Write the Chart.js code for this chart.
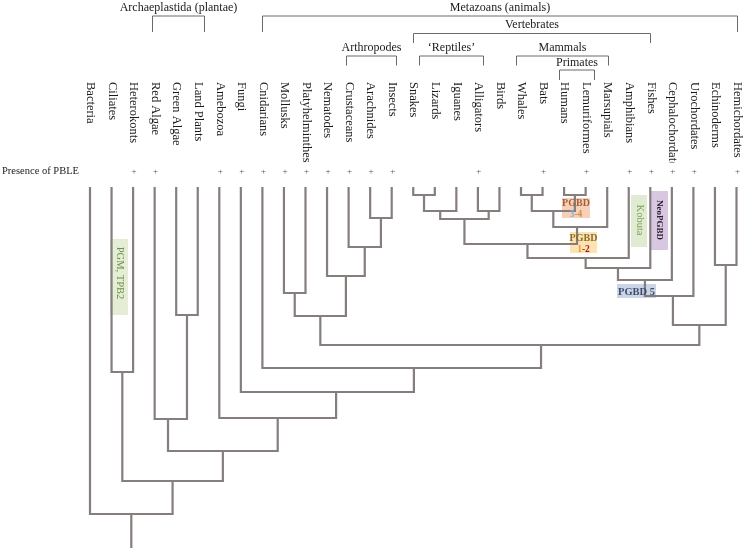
<!DOCTYPE html>
<html><head><meta charset="utf-8">
<script src="https://cdn.jsdelivr.net/npm/chart.js@4.4.1/dist/chart.umd.min.js"></script>
<style>html,body{margin:0;padding:0;background:#fff}#wrap{width:745px;height:548px;position:relative}</style>
</head><body><div id="wrap"><canvas id="c" width="745" height="548"></canvas></div>
<script>
// ---------------- DATA ----------------
const taxa = ['Bacteria','Ciliates','Heterokonts','Red Algae','Green Algae','Land Plants','Amebozoa','Fungi',
  'Cnidarians','Mollusks','Platyhelminthes','Nematodes','Crustaceans','Arachnides','Insects','Snakes','Lizards',
  'Iguanes','Alligators','Birds','Whales','Bats','Humans','Lemuriformes','Marsupials','Amphibians','Fishes',
  'Cephalochordates','Urochordates','Echinoderms','Hemichordates'];
// presence (1) / absence (0) of PBLE
const pble = [0,0,1,1,0,0,1,1,1,1,1,1,1,1,1,0,0,0,1,0,0,1,0,1,0,1,1,1,1,0,1];

// internal nodes of the tree: two children and a depth (distance below the tips)
const nodeNames = ['SnakesLizards','Squamates','Archosaurs','Sauropsids','WhalesBats','PrimatesNode','Placentals',
  'Mammalia','Amniotes','Tetrapods','Vertebrata','ChordCore','Chordates','Ambulacraria','Deuterostomes',
  'ArachInsects','Arthropoda','Ecdysozoa','Lophotrochozoa','Protostomes','Bilateria','Metazoa','Opisthokonts',
  'Unikonts','GreenPlants','Plantae','SAR','PlantsUnikonts','Eukaryotes','Life'];
const nodeLeft  = ['Snakes','SnakesLizards','Alligators','Squamates','Whales','Humans','WhalesBats','Placentals',
  'Sauropsids','Amniotes','Tetrapods','Vertebrata','ChordCore','Echinoderms','Chordates','Arachnides','Crustaceans',
  'Nematodes','Mollusks','Lophotrochozoa','Protostomes','Cnidarians','Fungi','Amebozoa','Green Algae','Red Algae',
  'Ciliates','Plantae','SAR','Bacteria'];
const nodeRight = ['Lizards','Iguanes','Birds','Archosaurs','Bats','Lemuriformes','PrimatesNode','Marsupials',
  'Mammalia','Amphibians','Fishes','Cephalochordates','Urochordates','Hemichordates','Ambulacraria','Insects',
  'ArachInsects','Arthropoda','Platyhelminthes','Ecdysozoa','Deuterostomes','Bilateria','Metazoa','Opisthokonts',
  'Land Plants','GreenPlants','Heterokonts','Unikonts','PlantsUnikonts','Eukaryotes'];
const nodeDepth = [7,23,23,31,7,7,23,39,56,70,80,92,108,77,137,30,59,88,105,128,157,180,204,230,127,231,184,263,293,326];
// stems drawn off-centre in the original (leaf-index units)
const stemAt = {Bilateria:20.93, Metazoa:15.03, Opisthokonts:11.42, Amniotes:20.3, Tetrapods:23.0, Plantae:3.62, Mammalia:22.6, Chordates:27.05};
const rootEnd = 362;

// clade brackets at the top
const groupNames = ['Archaeplastida (plantae)','Metazoans (animals)','Vertebrates','Arthropodes','\u2018Reptiles\u2019','Mammals','Primates'];
const groupFrom  = [2.88, 8.0, 15.0, 11.88, 15.27, 19.77, 21.76];
const groupTo    = [5.29, 30.0, 26.0, 14.2, 18.24, 24.04, 23.39];
const groupLevel = [0, 0, 1, 2, 2, 2, 3];

// ---------------- LAYOUT ----------------
const X0 = 90, DX = 21.55, TIP = 188;
const LINE = '#857e7d';
const SERIF = '"Liberation Serif","Times New Roman",serif';
const levels = [ {base:10.5, top:15.5, bot:32}, {base:27.5, top:33, bot:43}, {base:51, top:55.5, bot:65.5}, {base:66, top:69.5, bot:80} ];

const leafIndex = {}; taxa.forEach((t,i)=>leafIndex[t]=i);
const nodeIndex = {}; nodeNames.forEach((n,i)=>nodeIndex[n]=i);
const stemCache = {};
function stemX(name){
  if (name in leafIndex) return leafIndex[name];
  if (name in stemCache) return stemCache[name];
  const i = nodeIndex[name];
  const v = (name in stemAt) ? stemAt[name] : (stemX(nodeLeft[i]) + stemX(nodeRight[i]))/2;
  stemCache[name] = v; return v;
}
function topY(name){ return (name in leafIndex) ? 0 : nodeDepth[nodeIndex[name]]; }

const datasets = nodeNames.map((n,i)=>{
  const a = nodeLeft[i], b = nodeRight[i], d = nodeDepth[i];
  return {label:n, data:[{x:stemX(a),y:topY(a)},{x:stemX(a),y:d},{x:stemX(b),y:d},{x:stemX(b),y:topY(b)}]};
});
datasets.push({label:'root', data:[{x:stemX('Life'),y:nodeDepth[nodeIndex['Life']]},{x:stemX('Life'),y:rootEnd}]});
datasets.forEach(ds=>Object.assign(ds,{showLine:true,borderColor:LINE,borderWidth:2.2,pointRadius:0,
  borderJoinStyle:'miter',borderCapStyle:'square',fill:false,tension:0}));

const annBoxes = [
  {x:110,y:239,w:18,h:76,c:'rgba(222,232,205,0.8)'},
  {x:562,y:198,w:28,h:20,c:'rgba(246,196,168,0.8)'},
  {x:570,y:232,w:27,h:21,c:'rgba(253,222,165,0.85)'},
  {x:631,y:195,w:16,h:52,c:'rgba(222,232,205,0.9)'},
  {x:651,y:191,w:17,h:59,c:'rgba(214,196,222,0.95)'},
  {x:617,y:284,w:39,h:14,c:'rgba(196,208,230,0.9)'}
];

const decor = {
  id:'decor',
  beforeDatasetsDraw(chart){
    const ctx = chart.ctx; ctx.save();
    annBoxes.forEach(b=>{ctx.fillStyle=b.c; ctx.fillRect(b.x,b.y,b.w,b.h);});
    ctx.restore();
  },
  afterDatasetsDraw(chart){
    const ctx = chart.ctx, xs = chart.scales.x;
    const px = v => xs.getPixelForValue(v);
    ctx.save();
    // taxon labels (rotated, clipped)
    ctx.save();
    ctx.beginPath(); ctx.rect(0,0,745,162.5); ctx.clip();
    ctx.fillStyle = '#1a1a1a'; ctx.font = '12.5px '+SERIF; ctx.textAlign='left'; ctx.textBaseline='middle';
    taxa.forEach((t,i)=>{ ctx.save(); ctx.translate(px(i)+0.5, 82); ctx.rotate(Math.PI/2); ctx.fillText(t,0,0); ctx.restore(); });
    ctx.restore();
    // presence row
    ctx.fillStyle = '#1a1a1a'; ctx.font = '10.5px '+SERIF; ctx.textAlign='left'; ctx.textBaseline='alphabetic';
    ctx.fillText('Presence of PBLE', 2, 174);
    ctx.fillStyle = '#555'; ctx.font = '9px '+SERIF; ctx.textAlign='center'; ctx.textBaseline='middle';
    pble.forEach((p,i)=>{ if(p) ctx.fillText('+', px(i)+1, 172); });
    // brackets
    ctx.strokeStyle = '#6a6a6a'; ctx.lineWidth = 1;
    ctx.fillStyle = '#1a1a1a'; ctx.font = '12px '+SERIF; ctx.textAlign='center'; ctx.textBaseline='alphabetic';
    groupNames.forEach((g,i)=>{
      const L = levels[groupLevel[i]], a = Math.round(px(groupFrom[i]))+0.5, b = Math.round(px(groupTo[i]))+0.5;
      ctx.beginPath(); ctx.moveTo(a,L.bot); ctx.lineTo(a,L.top+0.5); ctx.lineTo(b,L.top+0.5); ctx.lineTo(b,L.bot); ctx.stroke();
      ctx.fillText(g,(a+b)/2,L.base);
    });
    // annotation texts
    function vtext(t,x,y,font,col){ctx.save();ctx.translate(x,y);ctx.rotate(Math.PI/2);ctx.font=font;ctx.fillStyle=col;ctx.textAlign='center';ctx.textBaseline='middle';ctx.fillText(t,0,0);ctx.restore();}
    vtext('PGM, TPB2',119.5,273,'10.5px '+SERIF,'#6f8f48');
    vtext('Kobuta',639.5,220,'10.5px '+SERIF,'#7ea456');
    vtext('NeoPGBD',659.5,220,'bold 9px '+SERIF,'#2a1a30');
    function multi(parts,cx,y,font){
      ctx.font=font; ctx.textBaseline='alphabetic'; ctx.textAlign='left';
      const w = parts.reduce((s,p)=>s+ctx.measureText(p[0]).width,0); let x = cx-w/2;
      parts.forEach(p=>{ctx.fillStyle=p[1]; ctx.fillText(p[0],x,y); x+=ctx.measureText(p[0]).width;});
    }
    multi([['PGBD','#a0623c']],576,206,'bold 10px '+SERIF);
    multi([['3','#7fb4d6'],['-4','#c8944a']],576,216.5,'bold 9.5px '+SERIF);
    multi([['PGBD','#8c6c2c']],583.5,241,'bold 10px '+SERIF);
    multi([['1','#e3a02e'],['-','#a04020'],['2','#b01818']],583.5,251.5,'bold 9.5px '+SERIF);
    multi([['PGBD 5','#3e4c6a']],636.5,294.5,'bold 10.5px '+SERIF);
    ctx.restore();
  }
};

new Chart(document.getElementById('c'), {
  type:'scatter',
  data:{datasets},
  options:{
    responsive:false, animation:false, devicePixelRatio:1,
    layout:{padding:0},
    plugins:{legend:{display:false}, tooltip:{enabled:false}},
    scales:{
      x:{type:'linear', display:false, min:-X0/DX, max:(745-X0)/DX},
      y:{type:'linear', display:false, reverse:true, min:-TIP, max:548-TIP}
    },
    elements:{line:{clip:false}}
  },
  plugins:[decor]
});
</script></body></html>
